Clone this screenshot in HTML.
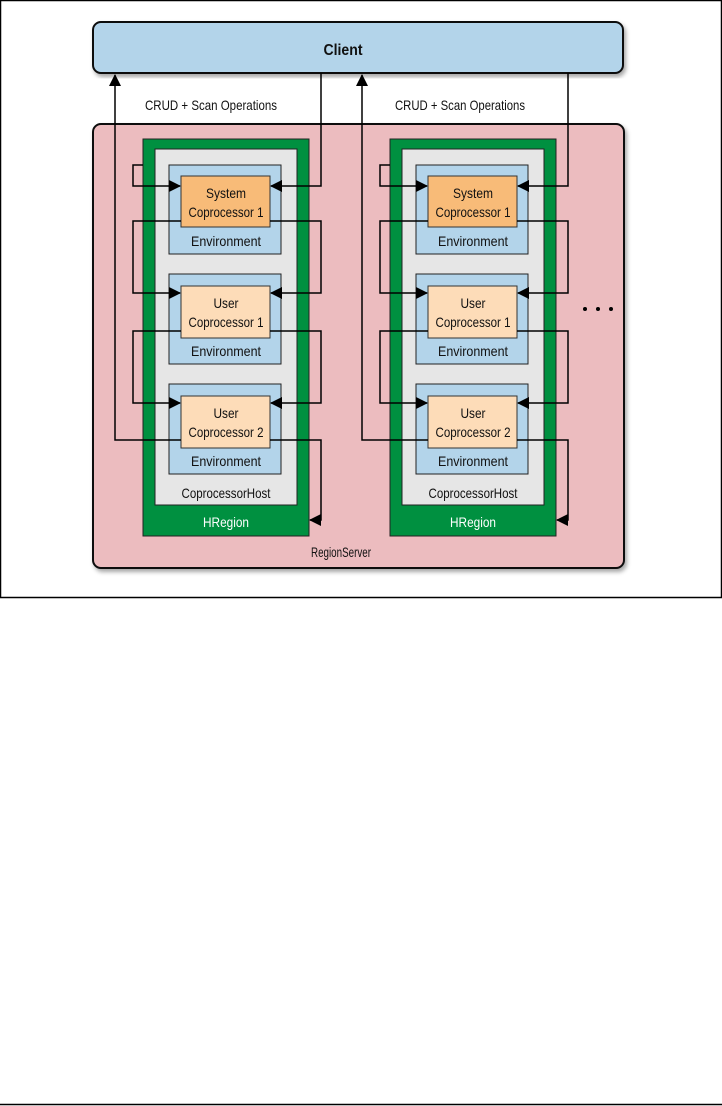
<!DOCTYPE html>
<html><head><style>
html,body{margin:0;padding:0;background:#fff;}
svg{display:block;}
text{font-family:"Liberation Sans Narrow","Liberation Sans",sans-serif;font-size:14px;fill:#111;text-anchor:middle;}
</style></head><body>
<svg width="722" height="1106" viewBox="0 0 722 1106" xmlns="http://www.w3.org/2000/svg">
<defs>
<marker id="a" markerWidth="12" markerHeight="12" refX="11" refY="6" orient="auto" markerUnits="userSpaceOnUse">
<path d="M0,0 L12,6 L0,12 z" fill="#000"/>
</marker>
<filter id="sh" x="-5%" y="-5%" width="110%" height="115%"><feDropShadow dx="2" dy="3" stdDeviation="2" flood-color="#000" flood-opacity="0.35"/></filter>
<g id="col">
  <rect x="143" y="139" width="166" height="397" fill="#009040" stroke="#222" stroke-width="1"/>
  <rect x="155" y="149" width="142" height="356" fill="#e6e6e6" stroke="#222" stroke-width="1"/>
  <text x="226" y="498" textLength="89" lengthAdjust="spacingAndGlyphs">CoprocessorHost</text>
  <text x="226" y="527" textLength="46" lengthAdjust="spacingAndGlyphs" style="fill:#fff">HRegion</text>
  <rect x="169" y="165" width="112" height="89" fill="#b3d4ea" stroke="#222"/>
  <rect x="181" y="176" width="89" height="51" fill="#f8bb78" stroke="#333"/>
  <text x="226" y="198" textLength="40" lengthAdjust="spacingAndGlyphs">System</text><text x="226" y="217" textLength="75" lengthAdjust="spacingAndGlyphs">Coprocessor 1</text>
  <text x="226" y="246" textLength="70" lengthAdjust="spacingAndGlyphs">Environment</text>
  <rect x="169" y="274" width="112" height="90" fill="#b3d4ea" stroke="#222"/>
  <rect x="181" y="286" width="89" height="52" fill="#fddcb8" stroke="#333"/>
  <text x="226" y="308" textLength="25" lengthAdjust="spacingAndGlyphs">User</text><text x="226" y="327" textLength="75" lengthAdjust="spacingAndGlyphs">Coprocessor 1</text>
  <text x="226" y="356" textLength="70" lengthAdjust="spacingAndGlyphs">Environment</text>
  <rect x="169" y="384" width="112" height="90" fill="#b3d4ea" stroke="#222"/>
  <rect x="181" y="396" width="89" height="52" fill="#fddcb8" stroke="#333"/>
  <text x="226" y="418" textLength="25" lengthAdjust="spacingAndGlyphs">User</text><text x="226" y="437" textLength="75" lengthAdjust="spacingAndGlyphs">Coprocessor 2</text>
  <text x="226" y="466" textLength="70" lengthAdjust="spacingAndGlyphs">Environment</text>
  <g fill="none" stroke="#000" stroke-width="1.5">
    <polyline points="181,440 115,440 115,75" marker-end="url(#a)"/>
    <polyline points="321,73 321,186 271,186" marker-end="url(#a)"/>
    <polyline points="143,165 133,165 133,186 180,186" marker-end="url(#a)"/>
    <polyline points="181,221 133,221 133,293 180,293" marker-end="url(#a)"/>
    <polyline points="270,221 321,221 321,293 271,293" marker-end="url(#a)"/>
    <polyline points="181,331 133,331 133,403 180,403" marker-end="url(#a)"/>
    <polyline points="270,331 321,331 321,403 271,403" marker-end="url(#a)"/>
    <polyline points="270,440 321,440 321,520 310,520" marker-end="url(#a)"/>
  </g>
</g>
</defs>
<rect x="0.5" y="0.5" width="721" height="597" fill="#fff" stroke="#000" stroke-width="1.5"/>
<line x1="0" y1="1104.5" x2="722" y2="1104.5" stroke="#000" stroke-width="1.5"/>
<rect x="93" y="22" width="530" height="51" rx="8" fill="#b3d4ea" stroke="#111" stroke-width="2" filter="url(#sh)"/>
<text x="343" y="55" textLength="39" lengthAdjust="spacingAndGlyphs" style="font-weight:bold;font-size:16px">Client</text>
<text x="211" y="110" textLength="132" lengthAdjust="spacingAndGlyphs">CRUD + Scan Operations</text>
<text x="460" y="110" textLength="130" lengthAdjust="spacingAndGlyphs">CRUD + Scan Operations</text>
<rect x="93" y="124" width="531" height="444" rx="8" fill="#ecbcbf" stroke="#111" stroke-width="2" filter="url(#sh)"/>
<text x="341" y="557" textLength="60" lengthAdjust="spacingAndGlyphs">RegionServer</text>
<use href="#col"/>
<use href="#col" transform="translate(247,0)"/>
<circle cx="585" cy="309" r="2" fill="#000"/><circle cx="598" cy="309" r="2" fill="#000"/><circle cx="611" cy="309" r="2" fill="#000"/>
</svg>
</body></html>
